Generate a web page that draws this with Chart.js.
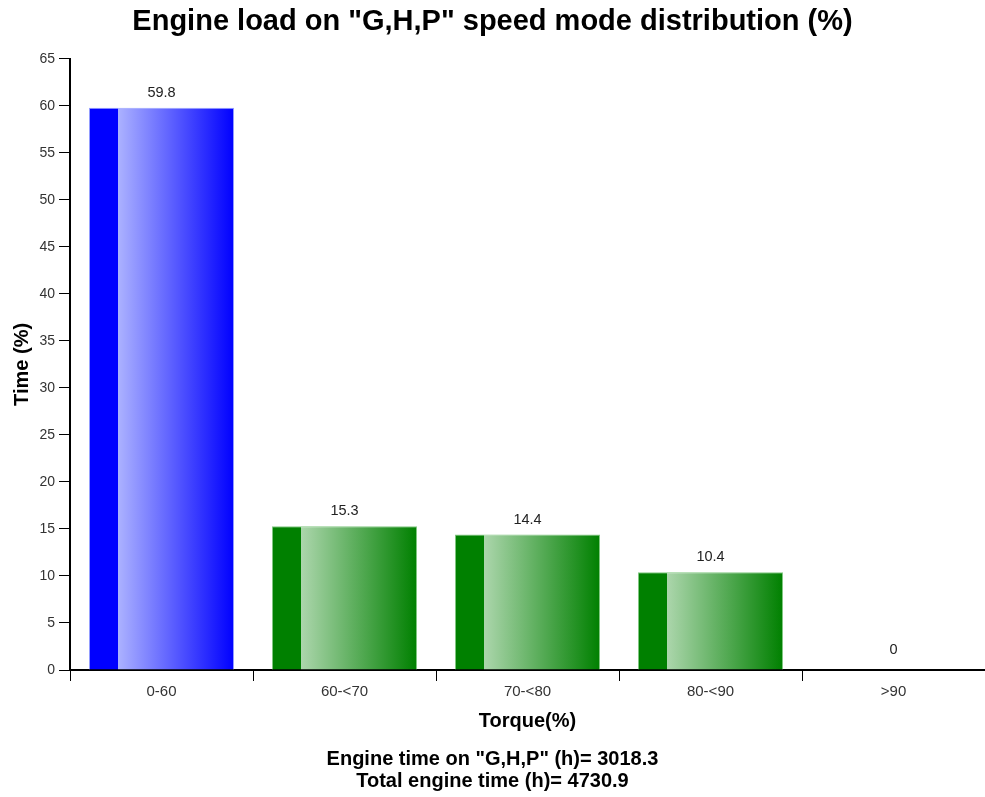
<!DOCTYPE html>
<html>
<head>
<meta charset="utf-8">
<script src="https://cdn.jsdelivr.net/npm/chart.js@4.4.0/dist/chart.umd.min.js"></script>
<style>
  html, body { margin: 0; padding: 0; background: #fff; }
  #wrap { width: 985px; height: 797px; }
</style>
</head>
<body>
<div id="wrap"><canvas id="loadChart"></canvas></div>
<script>
const torqueBands = ['0-60', '60-<70', '70-<80', '80-<90', '>90'];
const timeShare = [59.8, 15.3, 14.4, 10.4, 0];
const yTicks = [0, 5, 10, 15, 20, 25, 30, 35, 40, 45, 50, 55, 60, 65];
const footerLines = ['Engine time on "G,H,P" (h)= 3018.3', 'Total engine time (h)= 4730.9'];

const FONT = 'Arial, "Liberation Sans", sans-serif';

// first bar blue, the rest green
function barColours(i) {
  return i === 0
    ? { dark: 'rgb(0,0,255)', light: 'rgb(172,178,255)', edge: 'rgb(150,160,255)' }
    : { dark: 'rgb(0,128,0)', light: 'rgb(172,214,172)', edge: 'rgb(130,200,130)' };
}

function barFill(ctx) {
  const chart = ctx.chart;
  const c = barColours(ctx.dataIndex);
  const x = chart.scales.x;
  if (!x) return c.dark;
  const cx = x.getPixelForValue(ctx.dataIndex);
  const w = (x.width / torqueBands.length) * 0.793;
  if (!Number.isFinite(cx) || !Number.isFinite(w) || w <= 0) return c.dark;
  const g = chart.ctx.createLinearGradient(cx - w / 2, 0, cx + w / 2, 0);
  g.addColorStop(0, c.dark);
  g.addColorStop(0.2, c.dark);
  g.addColorStop(0.2, c.light);
  g.addColorStop(1, c.dark);
  return g;
}

const valueLabels = {
  id: 'valueLabels',
  afterDatasetsDraw(chart) {
    const ctx = chart.ctx;
    const meta = chart.getDatasetMeta(0);
    ctx.save();
    ctx.font = '14.5px ' + FONT;
    ctx.fillStyle = '#222';
    ctx.textAlign = 'center';
    ctx.textBaseline = 'middle';
    meta.data.forEach((bar, i) => {
      const lift = timeShare[i] === 0 ? 20 : 15;
      ctx.fillText(String(timeShare[i]), bar.x, bar.y - lift);
    });
    ctx.restore();
  }
};

new Chart(document.getElementById('loadChart'), {
  type: 'bar',
  data: {
    labels: torqueBands,
    datasets: [{
      data: timeShare,
      backgroundColor: barFill,
      borderColor: ctx => barColours(ctx.dataIndex).edge,
      borderWidth: 1,
      categoryPercentage: 1,
      barPercentage: 0.793
    }]
  },
  plugins: [valueLabels],
  options: {
    responsive: true,
    maintainAspectRatio: false,
    animation: false,
    layout: { padding: { left: 0, right: 0, top: 0, bottom: 5 } },
    plugins: {
      legend: { display: false },
      tooltip: { enabled: false },
      title: {
        display: true,
        text: 'Engine load on "G,H,P" speed mode distribution (%)',
        color: '#000',
        font: { family: FONT, size: 29, weight: 'bold' },
        padding: { top: 5, bottom: 19 }
      },
      subtitle: {
        display: true,
        position: 'bottom',
        text: footerLines,
        color: '#000',
        font: { family: FONT, size: 20, weight: 'bold', lineHeight: 1.1 },
        padding: { top: 15, bottom: 0 }
      }
    },
    scales: {
      x: {
        grid: { display: true, drawOnChartArea: false, drawTicks: true, tickLength: 11, color: '#000', offset: true },
        border: { display: true, color: '#000', width: 2 },
        ticks: { color: '#333', font: { family: FONT, size: 15 }, padding: 2 },
        title: {
          display: true,
          text: 'Torque(%)',
          color: '#000',
          font: { family: FONT, size: 20, weight: 'bold' },
          padding: { top: 6, bottom: 0 }
        }
      },
      y: {
        min: 0,
        max: 65,
        afterBuildTicks: axis => { axis.ticks = yTicks.map(v => ({ value: v })); },
        afterFit: axis => { axis.width = 70; },
        grid: { display: true, drawOnChartArea: false, drawTicks: true, tickLength: 11, color: '#000' },
        border: { display: true, color: '#000', width: 2 },
        ticks: { color: '#333', font: { family: FONT, size: 14 }, padding: 4 },
        title: {
          display: true,
          text: 'Time (%)',
          color: '#000',
          font: { family: FONT, size: 20, weight: 'bold' },
          padding: { top: 10, bottom: 0 }
        }
      }
    }
  }
});
</script>
</body>
</html>
